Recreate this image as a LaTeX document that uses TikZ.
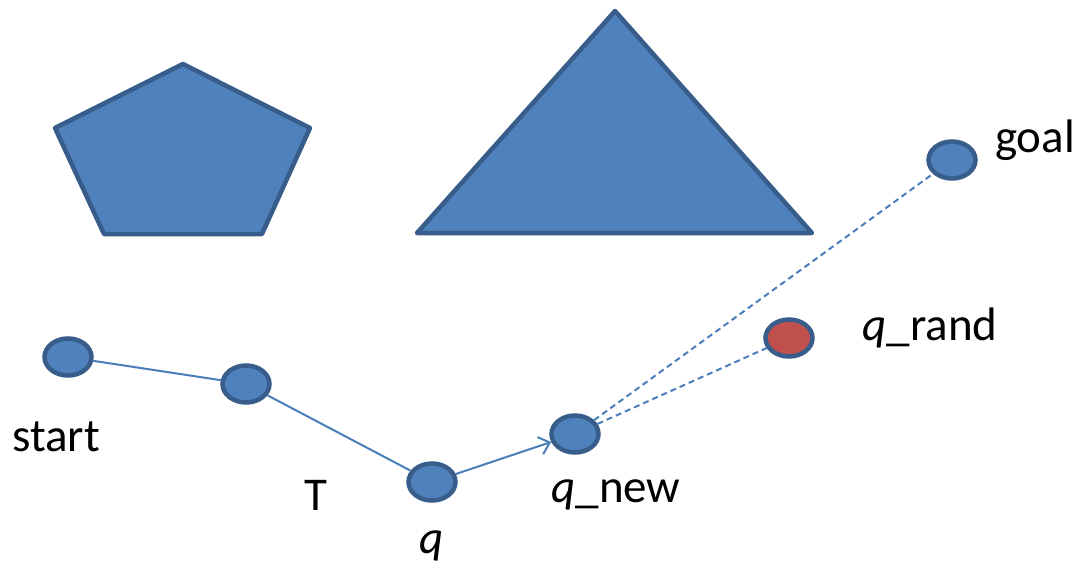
\documentclass[tikz,border=0pt]{standalone}
\usepackage{fontspec}
\setmainfont{Carlito}
\usetikzlibrary{shapes.geometric,arrows.meta}
\definecolor{fillblue}{HTML}{4F81BD}
\definecolor{edgeblue}{HTML}{385D8A}
\definecolor{lineblue}{HTML}{4A7EBB}
\definecolor{fillred}{HTML}{C0504D}
\tikzset{
  vtx/.style={ellipse, draw=edgeblue, fill=fillblue, line width=4.5pt, minimum width=47pt, minimum height=37pt, inner sep=0pt},
  obst/.style={draw=edgeblue, fill=fillblue, line width=4.5pt, line join=round},
  tree/.style={draw=lineblue, line width=2pt},
  cand/.style={draw=lineblue, line width=2pt, dash pattern=on 6pt off 4pt},
  lbl/.style={font=\fontsize{47}{52}\selectfont, text=black, inner sep=0pt}
}
\begin{document}
\begin{tikzpicture}[x=1pt,y=-1pt]
\useasboundingbox (0,0) rectangle (1077,570);
% obstacles
\draw[obst] (183,64) -- (310,128) -- (262,234) -- (104,234) -- (55,128) -- cycle;
\draw[obst] (615,11) -- (812,233) -- (417,233) -- cycle;
% vertices
\node[vtx] (s) at (68,357) {};
\node[vtx] (a) at (246,384) {};
\node[vtx] (q) at (432,482) {};
\node[vtx] (qn) at (575,434) {};
\node[vtx] (g) at (952,160) {};
\node[vtx, fill=fillred] (qr) at (789,338) {};
% connectors
\draw[tree] (s) -- (a);
\draw[tree] (a) -- (q);
\draw[tree, -{Straight Barb[length=10pt,width=18pt]}] (q) -- (qn);
\draw[cand] (qn) -- (g);
\draw[cand] (qn) -- (qr);
% labels
\node[lbl] (ls) at (56,437) {start};
\node[lbl] (lt) at (316,495) {T};
\node[lbl] (lq) at (432,546) {\textit{q}};
\node[lbl] (lqn) at (616,495) {\textit{q}\_new};
\node[lbl] (lqr) at (930,328) {\textit{q}\_rand};
\node[lbl] (lg) at (1035,140) {goal};
\end{tikzpicture}
\end{document}
